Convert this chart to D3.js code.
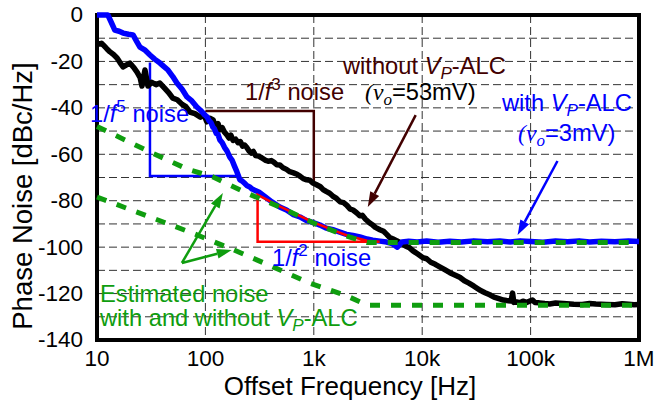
<!DOCTYPE html>
<html>
<head>
<meta charset="utf-8">
<script src="https://cdn.jsdelivr.net/npm/d3@7"></script>
<style>
  body { margin: 0; background: #fff; }
  svg { font-family: "Liberation Sans", Arial, sans-serif; }
</style>
</head>
<body>
<svg width="665" height="400"></svg>
<script>
// ---- data ----
const freqTicks = [10, 100, 1e3, 1e4, 1e5, 1e6];
const freqLabels = ["10", "100", "1k", "10k", "100k", "1M"];
const dbTicks = [0, -20, -40, -60, -80, -100, -120, -140];
const dbGrid = [-10, -20, -30, -40, -50, -60, -70, -80, -90, -100, -110, -120, -130];

// with VP-ALC (blue)
const withFreq = [10, 11, 12.6, 13.5, 14.6, 16, 17.4, 19.5, 21.5, 23, 24.9, 27.5, 30.8, 34, 38.1, 41, 45.2, 50, 54.6, 61, 67.6, 75, 83.4, 90, 98.9, 104, 108, 113, 117, 121, 126, 131, 136, 143, 150, 158, 168, 176, 185, 195, 208, 218, 230, 243, 257, 270, 285, 317, 360, 410, 485, 560, 650, 745, 850, 1000, 1140, 1300, 1500, 1740, 2000, 2300, 2660, 3100, 3500, 4070, 4700, 5300, 5900, 6500, 7500, 9000, 11000, 14000, 18000, 23000, 30000, 40000, 52000, 65000, 80000, 100000, 130000, 170000, 220000, 280000, 350000, 450000, 600000, 800000, 1000000];
const withDb = [0, 0, 0, -3, -6.5, -7, -7.8, -8.3, -8.6, -11, -13.8, -15, -17.2, -19, -20.7, -22, -23.7, -26.5, -29.3, -32, -35.3, -37, -39.6, -41, -43.1, -44, -45.5, -46.5, -48.2, -49, -51, -51.5, -53.8, -55, -57, -58.5, -61.2, -62.5, -65, -67.5, -71, -71.5, -72.5, -73.6, -74.1, -75, -75.5, -76.5, -78.5, -80.5, -82.7, -84, -86, -87, -88.5, -89.5, -90.5, -91.8, -92.5, -93.5, -94.5, -95, -95.6, -96.5, -97, -97.4, -97.8, -98.5, -100, -97.8, -97.5, -97.8, -97.4, -97.9, -97.5, -97.8, -97.3, -97.7, -97.4, -97.8, -97.3, -97.6, -97.9, -97.4, -97.7, -97.3, -97.8, -97.5, -97.7, -97.4, -97.6];

// without VP-ALC (black)
const withoutFreq = [10, 10.5, 11, 11.4, 12.3, 13.2, 14.2, 15.3, 16.3, 17.4, 18.7, 20.1, 21.7, 23.4, 25, 26, 27.7, 29.5, 32, 35, 38, 42, 46, 50, 55, 61, 66, 72, 80, 90, 97, 103, 110, 118, 122, 127, 131, 136, 143, 150, 157, 165, 172, 180, 190, 200, 210, 220, 230, 240, 252, 265, 277, 290, 310, 330, 355, 380, 405, 430, 455, 485, 520, 560, 600, 650, 700, 750, 800, 860, 920, 980, 1050, 1150, 1220, 1300, 1400, 1496, 1620, 1750, 1880, 2020, 2150, 2300, 2480, 2655, 2800, 3000, 3281, 3500, 3700, 4070, 4400, 4708, 5000, 5400, 5800, 6207, 7000, 7600, 8175, 9100, 10100, 11000, 12000, 13200, 14500, 16000, 18000, 20000, 22200, 24500, 27000, 30000, 33900, 38000, 42000, 46000, 51800, 56000, 60000, 66000, 68200, 70000, 74300, 80000, 85000, 92000, 104000, 110000, 120000, 135000, 150000, 170000, 200000, 250000, 300000, 350000, 400000, 500000, 600000, 700000, 800000, 900000, 1000000];
const withoutDb = [-12, -12.5, -12.2, -12.9, -14.5, -15.9, -17, -18.5, -20.5, -22.4, -21.5, -20.7, -22.5, -24.6, -27, -30.6, -23.7, -30.6, -29, -30, -29.3, -31.5, -33.5, -35.8, -36.5, -38.5, -39.5, -41.8, -42.5, -44, -43, -46, -44.5, -45.2, -47.5, -48, -46.8, -49.5, -48.5, -50.5, -51.5, -53, -51.8, -54, -53.5, -55, -54.5, -56.5, -56, -57, -58.5, -59.5, -58.8, -60.5, -60.8, -61.5, -62.5, -63, -62.7, -63.5, -64.5, -64.6, -65.8, -66.5, -67.5, -68, -68.6, -69.5, -70.5, -71, -71.2, -72.4, -73, -74, -75.2, -76, -76.8, -78, -79, -80.5, -80.8, -82, -83.5, -84, -85.2, -86.5, -86.3, -88, -89.6, -90.5, -91.5, -92.5, -93.2, -94.5, -95.8, -96.5, -97.2, -98, -99.5, -100.2, -101.5, -103, -104.5, -105, -106.5, -107.4, -108.5, -109.6, -111, -112, -113, -114.5, -115.5, -116.8, -118.5, -119.6, -120.5, -121.5, -122.3, -122.8, -123, -123.2, -119.8, -123.8, -123.6, -123.9, -123.3, -123.8, -122.8, -123.9, -124, -124.3, -124.5, -124.1, -124.3, -124.6, -124.7, -124.3, -124.5, -124.7, -124.8, -124.4, -124.6, -124.8, -124.7];

// estimated noise (green dashed)
const estUpFreq = [10, 30.8, 67.6, 118, 240, 485, 980, 2020, 3100, 1e6];
const estUpDb = [-48, -59, -66.3, -69.8, -76.7, -82.7, -89.5, -95.3, -98, -98];
const estLoFreq = [10, 14, 30.8, 76.5, 179, 420, 920, 2020, 3100, 1e6];
const estLoDb = [-78.4, -81, -87, -94, -101, -108.5, -115.5, -121, -125, -125];

// slope guides
const f5Freq = [30.8, 30.8, 200];
const f5Db = [-20.5, -69.3, -69.3];
const f3Freq = [100, 1000, 1000];
const f3Db = [-41.4, -41.4, -71.5];
const f2Freq = [4050, 303, 303, 485, 980, 2020, 3100, 4050];
const f2Db = [-97.7, -97.7, -77.5, -82.4, -89.2, -95, -97.2, -97.7];

const brown = "#420000";
const green = "#0f9d0f";

const svg = d3.select("svg");
const plotLeft = 97, plotRight = 639, plotTop = 15, plotBottom = 340;

const x = d3.scaleLog().domain([10, 1e6]).range([plotLeft, plotRight]);
const y = d3.scaleLinear().domain([0, -140]).range([plotTop, plotBottom]);

const zip = (fs, ds) => fs.map((f, i) => [f, ds[i]]);
const line = d3.line().x(d => x(d[0])).y(d => y(d[1]));

// clip (a bit larger than the frame, curves sit on top of it)
svg.append("defs").append("clipPath").attr("id", "plot")
  .append("rect").attr("x", plotLeft - 2).attr("y", plotTop - 3)
  .attr("width", plotRight - plotLeft + 2).attr("height", plotBottom - plotTop + 3);

// grid
svg.append("g").selectAll("line").data(dbGrid).join("line")
  .attr("x1", plotLeft).attr("x2", plotRight)
  .attr("y1", d => y(d)).attr("y2", d => y(d))
  .attr("stroke", "#333").attr("stroke-width", 1)
  .attr("stroke-dasharray", "8,4");
svg.append("g").selectAll("line").data(freqTicks.slice(1, -1)).join("line")
  .attr("x1", d => x(d)).attr("x2", d => x(d))
  .attr("y1", plotTop).attr("y2", plotBottom)
  .attr("stroke", "#333").attr("stroke-width", 1)
  .attr("stroke-dasharray", "8,4");

// frame
svg.append("rect").attr("x", plotLeft).attr("y", plotTop)
  .attr("width", plotRight - plotLeft).attr("height", plotBottom - plotTop)
  .attr("fill", "none").attr("stroke", "#000").attr("stroke-width", 4);

// tick labels
svg.append("g").selectAll("text").data(dbTicks).join("text")
  .attr("x", plotLeft - 14).attr("y", d => y(d)).attr("dy", "0.33em")
  .attr("text-anchor", "end").style("font-size", "22.5px")
  .text(d => d);
svg.append("g").selectAll("text").data(freqTicks).join("text")
  .attr("x", d => x(d)).attr("y", 366)
  .attr("text-anchor", "middle").style("font-size", "22.5px")
  .text((d, i) => freqLabels[i]);

// axis titles
svg.append("text").attr("x", 350).attr("y", 395)
  .attr("text-anchor", "middle").style("font-size", "26px")
  .text("Offset Frequency [Hz]");
svg.append("text").attr("transform", "translate(32,196) rotate(-90)")
  .attr("text-anchor", "middle").style("font-size", "27.5px")
  .text("Phase Noise [dBc/Hz]");

const plot = svg.append("g").attr("clip-path", "url(#plot)");

// slope guides
plot.append("path").attr("d", line(zip(f5Freq, f5Db)))
  .attr("fill", "none").attr("stroke", "#0000ff").attr("stroke-width", 2.5);
plot.append("path").attr("d", line(zip(f3Freq, f3Db)))
  .attr("fill", "none").attr("stroke", brown).attr("stroke-width", 2.5);

// measured curves
plot.append("path").attr("d", line(zip(withoutFreq, withoutDb)))
  .attr("fill", "none").attr("stroke", "#000").attr("stroke-width", 5.5)
  .attr("stroke-linejoin", "round");
plot.append("path").attr("d", line(zip(withFreq, withDb)))
  .attr("fill", "none").attr("stroke", "#0000ff").attr("stroke-width", 5.5)
  .attr("stroke-linejoin", "round");

plot.append("path").attr("d", line(zip(f2Freq, f2Db)))
  .attr("fill", "none").attr("stroke", "#ff0000").attr("stroke-width", 2.5);

// estimated (green dashed)
[[estUpFreq, estUpDb], [estLoFreq, estLoDb]].forEach(([fs, ds]) => {
  plot.append("path").attr("d", line(zip(fs, ds)))
    .attr("fill", "none").attr("stroke", green).attr("stroke-width", 5)
    .attr("stroke-dasharray", "10,11");
});

// arrows
function arrow(f1, d1, f2, d2, color) {
  const x1 = x(f1), y1 = y(d1), x2 = x(f2), y2 = y(d2);
  const a = Math.atan2(y2 - y1, x2 - x1);
  const len = 15, half = 5;
  const bx = x2 - len * Math.cos(a), by = y2 - len * Math.sin(a);
  svg.append("line").attr("x1", x1).attr("y1", y1).attr("x2", bx).attr("y2", by)
    .attr("stroke", color).attr("stroke-width", 2.5);
  svg.append("path")
    .attr("d", `M${x2},${y2}L${bx + half * Math.sin(a)},${by - half * Math.cos(a)}L${bx - half * Math.sin(a)},${by + half * Math.cos(a)}Z`)
    .attr("fill", color);
}
arrow(8710, -43.1, 3147, -82.7, brown);
arrow(177000, -62.9, 75900, -94.8, "#0000ff");
arrow(60.7, -106.8, 145, -76.7, green);
arrow(60.7, -106.8, 175, -101.2, green);

// labels with italics / sub / superscripts
function label(px, py, parts, color, size) {
  const t = svg.append("text").attr("x", px).attr("y", py)
    .attr("fill", color).style("font-size", size + "px");
  let shift = 0;
  parts.forEach(p => {
    const target = p.sup ? -0.42 * size : p.sub ? 0.22 * size : 0;
    const ts = t.append("tspan").attr("dy", target - shift).text(p.t);
    shift = target;
    if (p.sup || p.sub) ts.style("font-size", (size * 0.72) + "px");
    if (p.it) ts.style("font-style", "italic");
    if (p.serif) ts.style("font-family", "'Liberation Serif', 'Times New Roman', serif");
  });
}
const S = 23.7;
label(245, 100, [{t: "1/"}, {t: "f", it: true}, {t: "3", sup: true}, {t: " noise"}], brown, S);
label(90, 122, [{t: "1/"}, {t: "f", it: true}, {t: "5", sup: true}, {t: " noise"}], "#0000ff", S);
label(272, 266, [{t: "1/"}, {t: "f", it: true}, {t: "2", sup: true}, {t: " noise"}], "#0000ff", S);
label(343, 74, [{t: "without "}, {t: "V", it: true}, {t: "P", it: true, sub: true}, {t: "-ALC"}], brown, S);
label(365, 100, [{t: "(", serif: true, it: true}, {t: "v", serif: true, it: true}, {t: "o", serif: true, it: true, sub: true}, {t: "=53mV)"}], "#000", S);
label(502, 111, [{t: "with "}, {t: "V", it: true}, {t: "P", it: true, sub: true}, {t: "-ALC"}], "#0000ff", S);
label(518, 141, [{t: "(", serif: true, it: true}, {t: "v", serif: true, it: true}, {t: "o", serif: true, it: true, sub: true}, {t: "=3mV)"}], "#0000ff", S);
label(100, 302, [{t: "Estimated noise"}], green, S);
label(100, 326, [{t: "with and without "}, {t: "V", it: true}, {t: "P", it: true, sub: true}, {t: "-ALC"}], green, S);
</script>
</body>
</html>
